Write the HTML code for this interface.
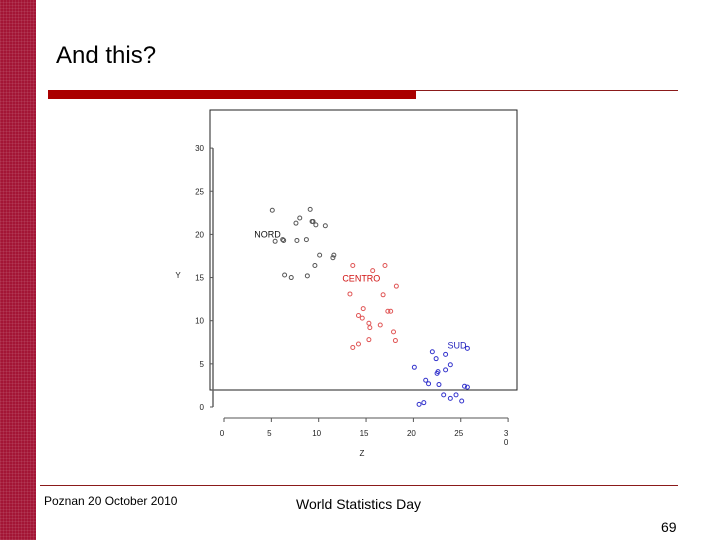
<!DOCTYPE html>
<html><head><meta charset="utf-8"><style>
body{margin:0;width:720px;height:540px;overflow:hidden;background:#fff;font-family:"Liberation Sans",sans-serif;position:relative}
.abs{position:absolute}
</style></head><body>
<div class="abs" style="left:0;top:0;width:36px;height:540px;background:#a31535;background-image:repeating-linear-gradient(0deg,rgba(255,255,255,0.08) 0 1px,transparent 1px 3px),repeating-linear-gradient(90deg,rgba(255,255,255,0.08) 0 1px,transparent 1px 3px)"></div>
<div class="abs" style="left:56px;top:42px;font-size:24px;color:#000">And this?</div>
<div class="abs" style="left:48px;top:90px;width:368px;height:9px;background:#aa0000"></div>
<div class="abs" style="left:416px;top:90px;width:262px;height:1px;background:#8b1a1a"></div>
<div class="abs" style="left:40px;top:485px;width:638px;height:1px;background:#8b1a1a"></div>
<div class="abs" style="left:44px;top:494px;font-size:12px">Poznan 20 October 2010</div>
<div class="abs" style="left:296px;top:496px;font-size:14px">World Statistics Day</div>
<div class="abs" style="left:661px;top:519px;font-size:14px">69</div>
<svg class="abs" style="left:0;top:0" width="720" height="540">
<rect x="210" y="110" width="307" height="280" fill="none" stroke="#222" stroke-width="1"/>
<g id="g" font-family="Liberation Sans, sans-serif" font-size="8"></g>
</svg>
<script>
const nordX=[5.1,9.1,8.0,7.6,9.3,9.4,9.7,10.7,5.4,6.2,6.3,7.7,8.7,10.1,11.5,11.6,9.6,6.4,7.1,8.8];
const nordY=[22.8,22.9,21.9,21.3,21.5,21.5,21.1,21.0,19.2,19.4,19.3,19.3,19.4,17.6,17.3,17.6,16.4,15.3,15.0,15.2];
const centroX=[13.6,15.7,17.0,18.2,13.3,16.8,14.7,17.3,17.6,14.2,14.6,15.3,15.4,16.5,17.9,18.1,15.3,14.2,13.6];
const centroY=[16.4,15.8,16.4,14.0,13.1,13.0,11.4,11.1,11.1,10.6,10.3,9.7,9.2,9.5,8.7,7.7,7.8,7.3,6.9];
const sudX=[22.0,23.4,25.7,22.4,20.1,23.9,23.4,22.6,22.5,21.3,21.6,22.7,25.4,25.7,23.2,23.9,24.5,25.1,21.1,20.6];
const sudY=[6.4,6.1,6.8,5.6,4.6,4.9,4.3,4.1,3.9,3.1,2.7,2.6,2.4,2.3,1.4,1.0,1.4,0.7,0.5,0.3];
const xTicks=[0,5,10,15,20,25,30];
const yTicks=[0,5,10,15,20,25,30];
const groups=[["NORD",nordX,nordY,"#555",4.6,20.0,"#111"],["CENTRO",centroX,centroY,"#e05555",14.5,14.9,"#d01010"],["SUD",sudX,sudY,"#3333cc",24.6,7.1,"#2222bb"]];
const sx=v=>224+v*9.47, sy=v=>407-v*8.63;
const g=document.getElementById('g'),NS='http://www.w3.org/2000/svg';
function mk(t,a){const e=document.createElementNS(NS,t);for(const k in a)e.setAttribute(k,a[k]);g.appendChild(e);return e;}
let e=mk('line',{x1:213,y1:sy(30),x2:213,y2:sy(0),stroke:'#666','stroke-width':1.5});


e=mk('line',{x1:sx(0),y1:418,x2:sx(30),y2:418,stroke:'#555','stroke-width':1});


yTicks.forEach(v=>{
 let t=mk('line',{x1:210,y1:sy(v),x2:213,y2:sy(v),stroke:'#555'});
 
 
 let l=mk('text',{x:204,y:sy(v)+3,'text-anchor':'end',fill:'#222'});l.textContent=v;
 
 
});
xTicks.forEach(v=>{
 let t=mk('line',{x1:sx(v),y1:418,x2:sx(v),y2:422,stroke:'#555'});
 
 
 let l=mk('text',{x:sx(v)-2,y:436,'text-anchor':'middle',fill:'#222'});l.textContent=v===30?'3':v;
 
 
});
e=mk('text',{x:sx(30)-2,y:445,'text-anchor':'middle',fill:'#222'});e.textContent='0';


e=mk('text',{x:362,y:456,'text-anchor':'middle',fill:'#222'});e.textContent='Z';


e=mk('text',{x:178,y:278,'text-anchor':'middle',fill:'#222'});e.textContent='Y';


groups.forEach(([n,xs,ys,c,lx,ly,lc])=>{
 xs.forEach((x,i)=>{
  let p=mk('circle',{cx:sx(x),cy:sy(ys[i]),r:2,fill:'none',stroke:c,'stroke-width':1});
  
  
 });
 let l=mk('text',{x:sx(lx),y:sy(ly)+3,'text-anchor':'middle',fill:lc,'font-size':9});l.textContent=n;
 
 
});
</script>
</body></html>
